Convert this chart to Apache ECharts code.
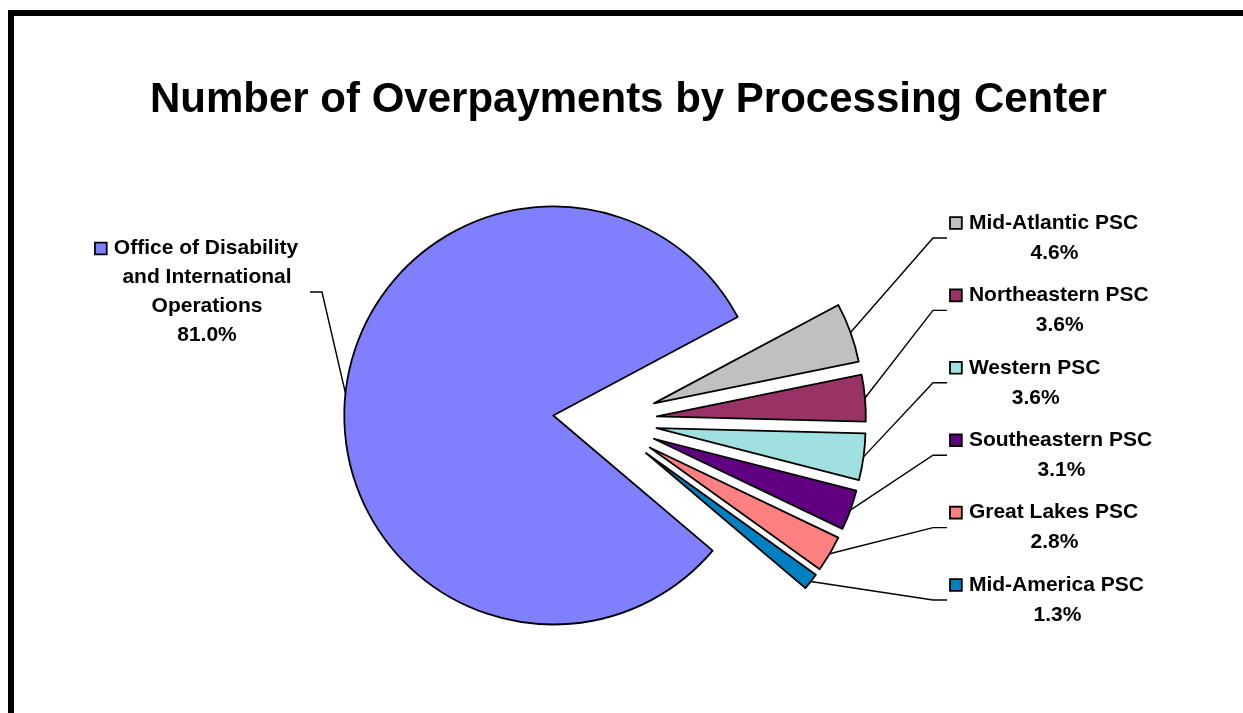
<!DOCTYPE html>
<html>
<head>
<meta charset="utf-8">
<script src="https://cdn.jsdelivr.net/npm/echarts@6/dist/echarts.min.js"></script>
<style>
  html, body { margin: 0; padding: 0; background: #fff; }
  #frame { position: absolute; left: 8px; top: 10px; width: 1243px; height: 713px;
           border-top: 6px solid #000; border-left: 6px solid #000; }
  #main { position: absolute; left: 0; top: 0; width: 1243px; height: 713px; }
</style>
</head>
<body>
<div id="frame"></div>
<div id="main"></div>
<script>
// data (share of overpayments, %)
var centers = [
  'Office of Disability\nand International\nOperations',
  'Mid-Atlantic PSC',
  'Northeastern PSC',
  'Western PSC',
  'Southeastern PSC',
  'Great Lakes PSC',
  'Mid-America PSC'
];
var shares = [81.0, 4.6, 3.6, 3.6, 3.1, 2.8, 1.3];
var sliceColors = ['#8080ff', '#c0c0c0', '#993366', '#a0e0e0', '#600080', '#ff8080', '#0080c0'];

var font = '"Liberation Sans", Arial, sans-serif';

var pieCenter = [605, 421];
var pieRadius = 209;
var explode = 52;

// label column on the right, legend key left edge
var keyLeft = 950;
var firstY = 238, lastY = 600;

function labelFor(i) {
  var lines = centers[i].split('\n');
  var txt = '{k|}{g|}{n|' + lines[0] + '}{s|}';
  for (var j = 1; j < lines.length; j++) txt += '\n{n|' + lines[j] + '}';
  txt += '\n{n|' + shares[i].toFixed(1) + '%}';
  var lh = i === 0 ? 29 : 30;
  return {
    formatter: txt,
    rich: {
      k: { width: 10, height: 10, backgroundColor: sliceColors[i], borderColor: '#000', borderWidth: 1.8 },
      g: { width: 8 },
      s: { width: 20 },
      n: { fontSize: 21, fontWeight: 'bold', fontFamily: font, color: '#000', lineHeight: lh }
    }
  };
}

// exploded slices
var pieData = centers.map(function (name, i) {
  return { name: name, value: shares[i], selected: true, itemStyle: { color: sliceColors[i] } };
});

// same slices again, invisible, only to carry the labels and leader lines
var labelData = centers.map(function (name, i) {
  return { name: name, value: shares[i], label: labelFor(i) };
});

var myChart = echarts.init(document.getElementById('main'));
option = {
  animation: false,
  title: {
    text: 'Number of Overpayments by Processing Center',
    left: 145,
    top: 74,
    textStyle: { fontSize: 42, fontWeight: 'bold', fontFamily: font, color: '#000' }
  },
  series: [
    {
      type: 'pie',
      center: pieCenter,
      radius: pieRadius,
      startAngle: -40.3,
      clockwise: true,
      selectedMode: 'multiple',
      selectedOffset: explode,
      emphasis: { disabled: true },
      itemStyle: { borderColor: '#000', borderWidth: 1.8 },
      label: { show: false },
      labelLine: { show: false },
      data: pieData
    },
    {
      type: 'pie',
      silent: true,
      center: pieCenter,
      radius: pieRadius,
      startAngle: -40.3,
      clockwise: true,
      emphasis: { disabled: true },
      itemStyle: { color: 'rgba(0,0,0,0)', borderWidth: 0 },
      label: { show: true, position: 'outside' },
      labelLine: { show: true, length: 20, length2: 10, lineStyle: { color: '#000', width: 1.4 } },
      labelLayout: function (p) {
        var i = p.dataIndex;
        var a = p.labelLinePoints[0];
        var ux = a[0] - pieCenter[0], uy = a[1] - pieCenter[1];
        var len = Math.sqrt(ux * ux + uy * uy);
        var start = [a[0] + explode * ux / len, a[1] + explode * uy / len];
        if (i === 0) {
          var cy = 292;
          return {
            x: 207, y: cy, align: 'center', verticalAlign: 'middle',
            labelLinePoints: [start, [322, cy], [310, cy]]
          };
        }
        var y = firstY + (i - 1) * (lastY - firstY) / (centers.length - 2);
        return {
          x: keyLeft + 10 + p.labelRect.width / 2, y: y, align: 'center', verticalAlign: 'middle',
          labelLinePoints: [start, [keyLeft - 17, y], [keyLeft - 3, y]]
        };
      },
      data: labelData
    }
  ]
};
myChart.setOption(option);
</script>
</body>
</html>
